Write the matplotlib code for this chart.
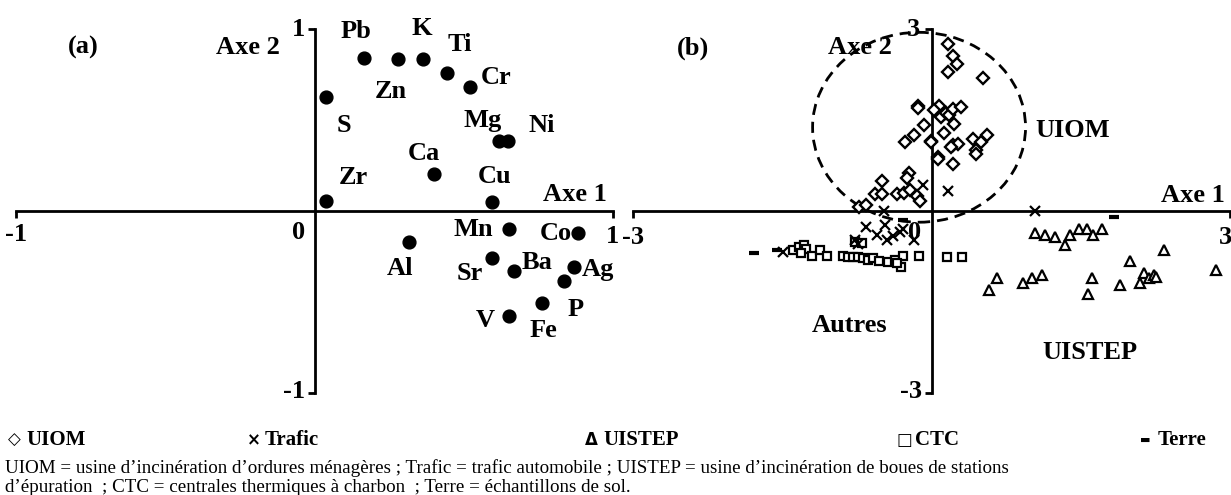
import numpy as np
import matplotlib
matplotlib.use("Agg")
import matplotlib.pyplot as plt
from matplotlib.patches import Ellipse

plt.rcParams['font.family'] = ['Liberation Serif', 'DejaVu Sans']

# (a) variables
elements = ['Pb', 'Zn', 'K', 'Ti', 'Cr', 'S', 'Mg', 'Ni', 'Ca', 'Zr', 'Cu',
            'Mn', 'Co', 'Al', 'Sr', 'Ba', 'Ag', 'P', 'Fe', 'V']
var_ax1 = [0.165, 0.28, 0.364, 0.444, 0.52, 0.04, 0.619, 0.647, 0.40, 0.04, 0.594,
           0.653, 0.884, 0.315, 0.594, 0.669, 0.87, 0.837, 0.763, 0.653]
var_ax2 = [0.839, 0.833, 0.833, 0.76, 0.68, 0.628, 0.386, 0.386, 0.203, 0.057, 0.051,
           -0.10, -0.123, -0.168, -0.26, -0.328, -0.306, -0.383, -0.507, -0.577]
# label offset from dot, in pixels
label_off = [(-8, 27), (-7, -32), (-1, 31), (13, 28), (26, 10), (17, -29), (-17, 20),
             (34, 15), (-10, 21), (27, 23), (3, 25), (-36, 0), (-23, 0), (-9, -27),
             (-22, -15), (23, 8), (24, -3), (11, -29), (1, -27), (-24, -4)]

# (b) samples
uiom_x = [0.17, 0.22, 0.26, 0.17, 0.52, -0.14, 0.08, 0.03, 0.10, 0.15, 0.18, 0.22, 0.30,
          -0.08, -0.18, -0.27, 0.23, 0.13, -0.01, 0.22, 0.27, 0.42, 0.50, 0.56, 0.45, 0.45,
          0.07, 0.22, -0.23, -0.25, -0.50, -0.57, -0.50, -0.35, -0.28, -0.22, -0.15, -0.12,
          -0.73, -0.66, -0.14, 0.07, -0.01, 0.20]
uiom_y = [2.75, 2.55, 2.42, 2.29, 2.19, 1.73, 1.73, 1.66, 1.55, 1.61, 1.58, 1.68, 1.72,
          1.42, 1.25, 1.13, 1.43, 1.29, 1.16, 1.09, 1.10, 1.18, 1.13, 1.26, 1.00, 0.94,
          0.89, 0.77, 0.63, 0.54, 0.50, 0.28, 0.28, 0.28, 0.30, 0.34, 0.24, 0.16,
          0.07, 0.10, 1.69, 0.85, 1.13, 1.06]
trafic_x = [0.17, 1.04, -0.48, -0.66, -0.47, -0.55, -0.45, -0.39, -0.32, -0.29, -0.18,
            -0.77, -0.74, -1.49, -0.09]
trafic_y = [0.33, 0.0, 0.0, -0.27, -0.23, -0.40, -0.48, -0.42, -0.35, -0.29, -0.48,
            -0.48, -0.54, -0.67, 0.43]
uistep_x = [1.04, 1.14, 1.24, 1.34, 1.39, 1.48, 1.56, 1.62, 1.71,
            0.58, 0.66, 0.92, 1.01, 1.11, 1.61, 1.57, 1.89, 1.99, 2.10, 2.14, 2.19,
            2.24, 2.26, 2.34, 2.86]
uistep_y = [-0.36, -0.40, -0.43, -0.56, -0.40, -0.29, -0.29, -0.40, -0.29,
            -1.31, -1.11, -1.18, -1.11, -1.05, -1.11, -1.36, -1.22, -0.82, -1.18, -1.03, -1.11,
            -1.05, -1.08, -0.64, -0.98]
ctc_x = [-1.39, -1.33, -1.28, -1.26, -1.31, -1.20, -1.12, -1.05, -0.89, -0.84, -0.79,
         -0.74, -0.69, -0.64, -0.59, -0.53, -0.44, -0.37, -0.29, -0.31, -0.35, -0.13,
         -0.77, -0.70, 0.16, 0.31]
ctc_y = [-0.64, -0.60, -0.56, -0.63, -0.70, -0.74, -0.64, -0.74, -0.74, -0.76, -0.76,
         -0.76, -0.78, -0.80, -0.78, -0.82, -0.84, -0.80, -0.74, -0.92, -0.86, -0.74,
         -0.51, -0.52, -0.75, -0.76]
terre_x = [1.83, -0.29, -1.78, -1.55]
terre_y = [-0.10, -0.15, -0.70, -0.64]

W, H = 1231, 495
fig = plt.figure(figsize=(W / 100, H / 100), dpi=100)

def px_axes(x0, x1, y0, y1):
    return fig.add_axes([x0 / W, 1 - y1 / H, (x1 - x0) / W, (y1 - y0) / H])

def style_axes(ax, lim):
    ax.set_xlim(-lim, lim)
    ax.set_ylim(-lim, lim)
    for s in ['left', 'bottom']:
        ax.spines[s].set_position(('data', 0))
        ax.spines[s].set_linewidth(2)
    ax.spines['top'].set_visible(False)
    ax.spines['right'].set_visible(False)
    ax.set_xticks([-lim, lim])
    ax.set_yticks([-lim, lim])
    ax.tick_params(direction='out', length=5, width=2, labelbottom=False, labelleft=False)
    ax.patch.set_visible(False)

bold = dict(fontsize=19, fontweight='bold')

# ---- panel (a)
ax = px_axes(16, 613, 29, 393)
style_axes(ax, 1)
ax.scatter(var_ax1, var_ax2, s=85, color='black', zorder=3, clip_on=False)
for name, x, y, off in zip(elements, var_ax1, var_ax2, label_off):
    ax.annotate(name, (x, y), xytext=off, textcoords='offset pixels',
                ha='center', va='center', **bold)
ax.text(-0.774, 0.896, '(a)', ha='center', va='center', **bold)
ax.text(-0.115, 0.896, 'Axe 2', ha='right', va='center', **bold)
ax.text(-0.03, 1.0, '1', ha='right', va='center', **bold)
ax.text(0.98, 0.088, 'Axe 1', ha='right', va='center', **bold)
ax.text(-1.0, -0.13, '-1', ha='center', va='center', **bold)
ax.text(-0.03, -0.12, '0', ha='right', va='center', **bold)
ax.text(1.0, -0.14, '1', ha='center', va='center', **bold)
ax.text(-0.03, -0.99, '-1', ha='right', va='center', **bold)

# ---- panel (b)
ax = px_axes(633, 1230, 29, 393)
style_axes(ax, 3)
ax.add_patch(Ellipse((-0.125, 1.38), 2.14, 3.13, fill=False, lw=2,
                     ls=(0, (4, 2.5)), zorder=1))
ax.plot(uiom_x, uiom_y, 'D', ms=6, mfc='white', mec='black', mew=1.7, ls='none', zorder=3)
ax.plot(trafic_x, trafic_y, 'x', ms=7, mec='black', mew=1.6, ls='none', zorder=4)
ax.plot(uistep_x, uistep_y, '^', ms=7.5, mfc='white', mec='black', mew=1.6, ls='none', zorder=3)
ax.plot(ctc_x, ctc_y, 's', ms=6, mfc='white', mec='black', mew=1.6, ls='none', zorder=3)
ax.plot(terre_x, terre_y, '_', ms=7, mec='black', mew=3, ls='none', zorder=4)
ax.text(-2.40, 2.69, '(b)', ha='center', va='center', **bold)
ax.text(-0.40, 2.69, 'Axe 2', ha='right', va='center', **bold)
ax.text(-0.12, 3.0, '3', ha='right', va='center', **bold)
ax.text(1.42, 1.32, 'UIOM', ha='center', va='center', **bold)
ax.text(2.95, 0.26, 'Axe 1', ha='right', va='center', **bold)
ax.text(2.95, -0.43, '3', ha='center', va='center', **bold)
ax.text(-3.0, -0.43, '-3', ha='center', va='center', **bold)
ax.text(-0.10, -0.35, '0', ha='right', va='center', **bold)
ax.text(-0.10, -2.98, '-3', ha='right', va='center', **bold)
ax.text(-0.82, -1.88, 'Autres', ha='center', va='center', **bold)
ax.text(1.59, -2.34, 'UISTEP', ha='center', va='center', **bold)

# ---- legend row
legend_sym = ['\u25c7', '\u00d7', '\u0394', '\u25a1', '\u25ac']
legend_txt = ['UIOM', 'Trafic', 'UISTEP', 'CTC', 'Terre']
legend_x = [8, 247, 585, 897, 1140]
for sym, txt, x in zip(legend_sym, legend_txt, legend_x):
    fig.text(x / W, 1 - 440 / H, sym, fontsize=8 if sym == '\u25ac' else 12,
             fontweight='bold', ha='left', va='center', family=['DejaVu Sans'])
    fig.text((x + 18) / W, 1 - 440 / H, txt, fontsize=15, fontweight='bold',
             ha='left', va='center')

caption1 = ("UIOM = usine d\u2019incin\u00e9ration d\u2019ordures m\u00e9nag\u00e8res ; Trafic = trafic "
            "automobile ; UISTEP = usine d\u2019incin\u00e9ration de boues de stations")
caption2 = ("d\u2019\u00e9puration  ; CTC = centrales thermiques \u00e0 charbon  ; Terre = "
            "\u00e9chantillons de sol.")
fig.text(5 / W, 1 - 468 / H, caption1, fontsize=13.7, ha='left', va='center')
fig.text(5 / W, 1 - 488 / H, caption2, fontsize=13.7, ha='left', va='center')

fig.savefig('out.png', dpi=100)
